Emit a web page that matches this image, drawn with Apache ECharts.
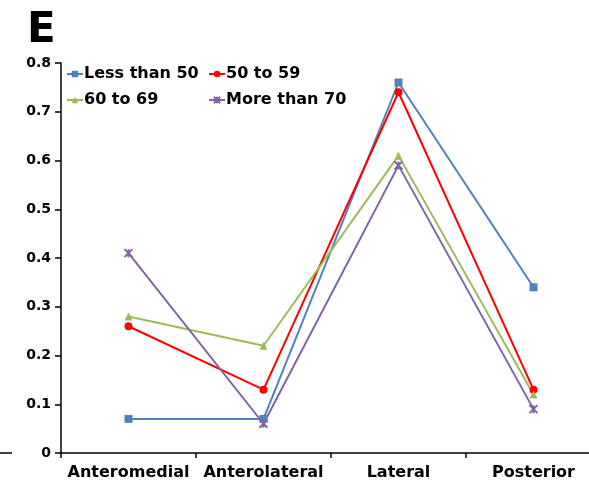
<!DOCTYPE html>
<html><head><meta charset="utf-8">
<script src="https://cdn.jsdelivr.net/npm/echarts@6/dist/echarts.min.js"></script>
<style>html,body{margin:0;padding:0;background:#fff}#c{width:589px;height:489px}</style>
</head><body><div id="c"></div>
<script>
const categories = ['Anteromedial', 'Anterolateral', 'Lateral', 'Posterior'];
const seriesNames = ['Less than 50', '50 to 59', '60 to 69', 'More than 70'];
const lessThan50 = [0.07, 0.07, 0.76, 0.34];
const from50to59 = [0.26, 0.13, 0.74, 0.13];
const from60to69 = [0.28, 0.22, 0.61, 0.12];
const moreThan70 = [0.41, 0.06, 0.59, 0.09];
const yTicks = [0, 0.1, 0.2, 0.3, 0.4, 0.5, 0.6, 0.7, 0.8];

const colors = ['#4F81BD', '#FF0000', '#9BBB59', '#8064A2'];
const symbols = ['rect', 'circle', 'triangle', 'path://M0,0 L10,10 M10,0 L0,10 M5,0 L5,10'];
const values = [lessThan50, from50to59, from60to69, moreThan70];
const font = '"DejaVu Sans", sans-serif';

const chart = echarts.init(document.getElementById('c'), null, {renderer: 'canvas'});
const legendPos = [[66, 66], [208, 66], [66, 92], [208, 92]];
chart.setOption({
  animation: false,
  title: {text: 'E', left: 22, top: 5, textStyle: {fontSize: 42, fontWeight: 'bold', color: '#000', fontFamily: font}},
  legend: seriesNames.map((n, i) => ({
    data: [n], left: legendPos[i][0], top: legendPos[i][1], itemWidth: 16, itemHeight: 8, itemGap: 2, padding: 0,
    textStyle: {fontSize: 16, fontWeight: 'bold', color: '#000', fontFamily: font, padding: [0, 0, 0, -4]}
  })),
  grid: {left: 61, top: 63, width: 540, height: 390, containLabel: false, outerBoundsMode: 'none'},
  xAxis: {
    type: 'category', data: categories, boundaryGap: true,
    axisLine: {lineStyle: {color: '#000', width: 1.5}},
    axisTick: {show: true, length: 5, lineStyle: {color: '#000', width: 1.5}},
    axisLabel: {fontSize: 16, fontWeight: 'bold', color: '#000', fontFamily: font, margin: 12, interval: 0}
  },
  yAxis: {
    type: 'value', min: 0, max: 0.8, interval: 0.1,
    axisLine: {show: true, lineStyle: {color: '#000', width: 1.5}},
    axisTick: {show: true, length: 6, lineStyle: {color: '#000', width: 1.5}},
    splitLine: {show: false},
    axisLabel: {fontSize: 14, fontWeight: 'bold', color: '#000', fontFamily: font, margin: 10,
      formatter: v => (v === 0 ? '0' : v.toFixed(1))}
  },
  graphic: [{type: 'line', shape: {x1: 0, y1: 453, x2: 12, y2: 453}, style: {stroke: '#000', lineWidth: 1.5}}],
  series: seriesNames.map((n, i) => ({
    name: n, type: 'line', data: values[i], symbol: symbols[i], symbolSize: 8,
    showAllSymbol: true,
    lineStyle: {color: colors[i], width: 2},
    itemStyle: {color: colors[i], borderColor: colors[i], borderWidth: i === 3 ? 2 : 0}
  }))
});
</script></body></html>
